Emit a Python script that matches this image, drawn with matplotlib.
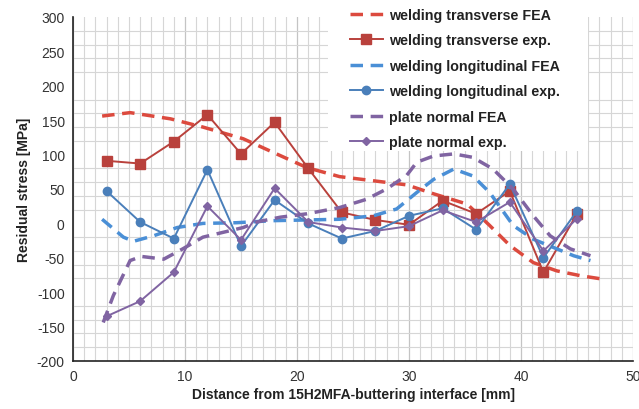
import numpy as np
import matplotlib.pyplot as plt
from matplotlib.ticker import MultipleLocator
from matplotlib.patches import Rectangle

plt.rcParams['font.family'] = ['Liberation Sans', 'DejaVu Sans']
plt.rcParams['axes.unicode_minus'] = False

# measured points (exp.)
x_exp = [3, 6, 9, 12, 15, 18, 21, 24, 27, 30, 33, 36, 39, 42, 45]
trans_exp = [91, 87, 119, 158, 101, 147, 80, 16, 5, -2, 33, 14, 47, -71, 14]
long_exp = [47, 2, -22, 78, -33, 34, 0, -22, -11, 11, 22, -9, 57, -50, 18]
normal_exp = [-135, -113, -71, 25, -24, 51, 2, -6, -11, -4, 19, 2, 31, -40, 7]

# FEA curves
trans_fea_x = [2.6, 5.1, 8.7, 11.6, 15.2, 17.9, 20.9, 23.8, 26.8, 29.8, 32.2, 35.2,
               37.2, 39.0, 41.1, 43.2, 45.3, 47.3]
trans_fea_y = [156, 161, 152, 140, 123, 103, 81, 68, 62, 56, 43, 28,
               -3, -32, -57, -69, -76, -81]

long_fea_x = [2.6, 4.5, 5.4, 7.2, 9.3, 11.6, 14.6, 17.9, 20.9, 23.8, 26.8, 28.9,
              30.7, 32.2, 34.0, 35.7, 37.2, 39.3, 41.1, 43.2, 44.7, 46.2]
long_fea_y = [6, -20, -26, -18, -6, 0, 1, 4, 5, 6, 11, 21,
              45, 64, 79, 69, 45, -3, -23, -37, -47, -54]

normal_fea_x = [2.7, 3.6, 5.1, 6.1, 8.1, 9.8, 11.6, 13.4, 15.2, 16.4, 18.5, 20.9,
                23.8, 26.2, 28.0, 29.8, 30.7, 32.2, 34.0, 35.7, 37.5, 39.3,
                41.1, 42.6, 44.4, 46.2]
normal_fea_y = [-144, -105, -54, -48, -52, -37, -20, -13, -6, 2, 9, 14,
                23, 35, 50, 70, 89, 98, 101, 96, 79, 50,
                11, -18, -37, -47]

red_fea = '#dc4a3e'
red_exp = '#b9413c'
blue_fea = '#4a8fd6'
blue_exp = '#4a7fba'
purple = '#8064a2'

fig = plt.figure(figsize=(6.39, 4.10), dpi=100)
ax = fig.add_axes([73 / 639, 1 - 362 / 410, 560 / 639, 344 / 410])

dash = (0, (3.6, 2.2))
ax.plot(trans_fea_x, trans_fea_y, color=red_fea, lw=2.5, ls=dash, label='welding transverse FEA')
ax.plot(x_exp, trans_exp, color=red_exp, lw=1.4, marker='s', ms=6.5, label='welding transverse exp.')
ax.plot(long_fea_x, long_fea_y, color=blue_fea, lw=2.5, ls=dash, label='welding longitudinal FEA')
ax.plot(x_exp, long_exp, color=blue_exp, lw=1.4, marker='o', ms=6, label='welding longitudinal exp.')
ax.plot(normal_fea_x, normal_fea_y, color=purple, lw=2.5, ls=dash, label='plate normal FEA')
ax.plot(x_exp, normal_exp, color=purple, lw=1.4, marker='D', ms=4.2, label='plate normal exp.')

ax.set_xlim(0, 50)
ax.set_ylim(-200, 300)
ax.xaxis.set_major_locator(MultipleLocator(10))
ax.xaxis.set_minor_locator(MultipleLocator(1))
ax.yaxis.set_major_locator(MultipleLocator(50))
ax.yaxis.set_minor_locator(MultipleLocator(20))
ax.grid(which='minor', color='#d6d6d6', lw=0.8)
ax.grid(which='major', axis='x', color='#c4c4c4', lw=0.9)
ax.set_axisbelow(True)
for s in ['top', 'right']:
    ax.spines[s].set_visible(False)
for s in ['left', 'bottom']:
    ax.spines[s].set_color('#222222')
    ax.spines[s].set_linewidth(1.2)
ax.tick_params(which='both', length=0, labelsize=10, colors='#333333', pad=6)

ax.set_xlabel('Distance from 15H2MFA-buttering interface [mm]', fontsize=10,
              fontweight='bold', color='#222222', labelpad=3)
ax.set_ylabel('Residual stress [MPa]', fontsize=10, fontweight='bold',
              color='#222222', labelpad=4)

# white block behind the legend, covering the grid
fig.patches.append(Rectangle((328 / 639, 1 - 152 / 410), 260 / 639, 152 / 410,
                             transform=fig.transFigure, facecolor='white',
                             edgecolor='none', zorder=1))
ax.set_zorder(0)
leg = fig.legend(*ax.get_legend_handles_labels(), loc='upper left',
                 bbox_to_anchor=(347 / 639, 1 - 6 / 410), frameon=False,
                 prop={'size': 10.3, 'weight': 'bold'}, handlelength=2.3,
                 labelspacing=0.8, borderpad=0.2, handletextpad=0.45,
                 borderaxespad=0)
leg.set_zorder(3)
for t in leg.get_texts():
    t.set_color('#222222')

fig.savefig('out.png', dpi=100)
